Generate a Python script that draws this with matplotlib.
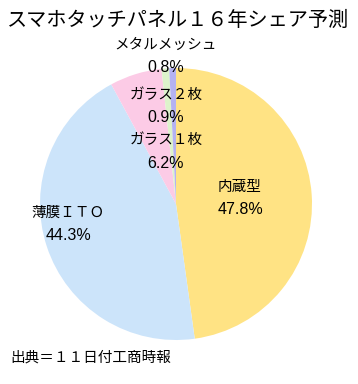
import numpy as np
import matplotlib
matplotlib.use("Agg")
import matplotlib.pyplot as plt

plt.rcParams['font.family'] = ['Liberation Sans', 'Noto Sans CJK JP', 'DejaVu Sans']

categories = ['内蔵型', '薄膜ＩＴＯ', 'ガラス１枚', 'ガラス２枚', 'メタルメッシュ']
shares = [47.8, 44.3, 6.2, 0.9, 0.8]
colors = ['#FFE384', '#CCE4FA', '#FCCBE6', '#DDF3CB', '#B4B2F2']

W, H = 358, 384
fig = plt.figure(figsize=(W / 100, H / 100), dpi=100)
fig.patch.set_facecolor('white')

# pie centre (176, 204) px, radius 136 px
cx, cy, r = 176, 204, 136
ax = fig.add_axes([(cx - r) / W, (H - cy - r) / H, 2 * r / W, 2 * r / H])
ax.pie(shares, colors=colors, startangle=90, counterclock=False,
       radius=1, wedgeprops=dict(linewidth=0))
ax.set_xlim(-1, 1)
ax.set_ylim(-1, 1)
ax.set_aspect('equal')
ax.axis('off')


def px(x, y):
    return ((x - cx) / r, (cy - y) / r)


fs = 10.5
fs_pct = 11.5
# big slices: name and value inside
label_px = {
    '内蔵型': (240, 187),
    '薄膜ＩＴＯ': (68, 213),
}
for name, val in zip(categories[:2], shares[:2]):
    x, y = label_px[name]
    ax.text(*px(x, y), name, ha='center', va='center', fontsize=fs)
    ax.text(*px(x, y + 23), f'{val}%', ha='center', va='center', fontsize=fs_pct)

# small slices: stacked above
small_px = {
    'メタルメッシュ': 45,
    'ガラス２枚': 95,
    'ガラス１枚': 140,
}
for name, val in zip(categories[2:], shares[2:]):
    y = small_px[name]
    ax.text(*px(166, y), name, ha='center', va='center', fontsize=fs, clip_on=False)
    ax.text(*px(166, y + 23), f'{val}%', ha='center', va='center', fontsize=fs_pct, clip_on=False)

fig.text(178 / W, 1 - 20 / H, 'スマホタッチパネル１６年シェア予測',
         ha='center', va='center', fontsize=14.5)
fig.text(10 / W, 1 - 358 / H, '出典＝１１日付工商時報',
         ha='left', va='center', fontsize=10.5)

fig.savefig('out.png', dpi=100)
